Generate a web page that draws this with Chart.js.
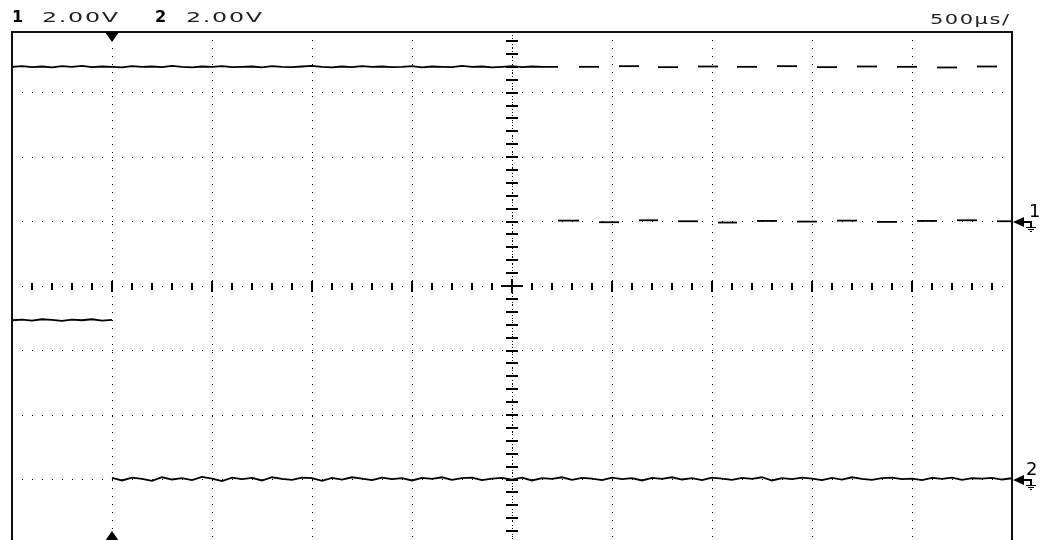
<!DOCTYPE html>
<html>
<head>
<meta charset="utf-8">
<script src="https://cdn.jsdelivr.net/npm/chart.js@4.4.1/dist/chart.umd.min.js"></script>
<style>
  html, body { margin: 0; padding: 0; background: #fff; overflow: hidden; }
  #wrap { position: absolute; left: 0; top: 0; width: 1047px; height: 546px; }
  .lbl { position: absolute; font-family: "DejaVu Sans", sans-serif; line-height: 1; color: #222; white-space: nowrap; transform-origin: 0 0; }
  .num { font-weight: bold; font-size: 16px; color: #000; }
  .wide { font-size: 14px; letter-spacing: 1px; transform: scaleX(1.7); }
  .gnd { font-size: 18px; color: #000; }
</style>
</head>
<body>
<div id="wrap"><canvas id="scope"></canvas></div>
<div class="lbl num" id="ch1-num" style="left:12px;top:8.5px"></div>
<div class="lbl wide" id="ch1-scale" style="left:42px;top:10px"></div>
<div class="lbl num" id="ch2-num" style="left:155px;top:8.5px"></div>
<div class="lbl wide" id="ch2-scale" style="left:186px;top:10px"></div>
<div class="lbl wide" id="timebase" style="left:930px;top:12px;transform:scaleX(1.5)"></div>
<div class="lbl gnd" id="gnd1"></div>
<div class="lbl gnd" id="gnd2"></div>
<script>
// screen settings
const channelNames = ['1', '2'];
const channelScales = ['2.00V', '2.00V'];
const timebaseLabel = '500µs/';
const VOLTS_PER_DIV = 2;
const CH1_GROUND = 1;     // divisions above centre
const CH2_GROUND = -3;
const T_START = -0.5;     // ms at left edge (trigger at 0)
const T_END = 4.5;
const T_STEP = 0.05;      // ms between samples

const xDivisions = [-0.5, 0, 0.5, 1, 1.5, 2, 2.5, 3, 3.5, 4, 4.5];
const yDivisions = [-4, -3, -2, -1, 0, 1, 2, 3];

// ch1 steady high, -0.5 .. 2.2 ms (V)
const ch1High = [
  4.80, 4.82, 4.79, 4.81, 4.78, 4.82, 4.80, 4.83, 4.79, 4.81,
  4.80, 4.78, 4.82, 4.80, 4.81, 4.79, 4.83, 4.80, 4.78, 4.81,
  4.80, 4.82, 4.79, 4.80, 4.81, 4.78, 4.82, 4.80, 4.79, 4.81,
  4.83, 4.80, 4.78, 4.81, 4.79, 4.82, 4.80, 4.81, 4.79, 4.80,
  4.82, 4.78, 4.81, 4.80, 4.79, 4.83, 4.80, 4.81, 4.78, 4.80,
  4.82, 4.79, 4.81, 4.80, 4.80
];
// ch1 burst: edge times (ms) and level after each edge (V)
const ch1Edges = [
  2.23, 2.335, 2.435, 2.535, 2.635, 2.73, 2.83, 2.93, 3.03, 3.125, 3.225, 3.325,
  3.425, 3.525, 3.625, 3.725, 3.825, 3.925, 4.025, 4.125, 4.225, 4.325, 4.425
];
const ch1Levels = [
  0.03, 4.80, -0.02, 4.82, 0.04, 4.79, 0.01, 4.81, -0.03, 4.80, 0.02, 4.82,
  0.00, 4.79, 0.03, 4.81, -0.01, 4.80, 0.02, 4.78, 0.04, 4.81, 0.01
];

// ch2 before trigger, -0.5 .. 0 ms (V)
const ch2Before = [4.94, 4.96, 4.93, 4.97, 4.95, 4.92, 4.96, 4.94, 4.97, 4.93, 4.95];
// ch2 after trigger, 0 .. 4.5 ms (V)
const ch2After = [
  0.05, -0.03, 0.06, 0.02, -0.04, 0.07, 0.00, 0.04, -0.02, 0.08,
  0.03, -0.05, 0.06, 0.01, 0.05, -0.03, 0.07, 0.02, -0.01, 0.06,
  0.04, -0.04, 0.05, 0.00, 0.07, 0.03, -0.02, 0.06, 0.01, 0.04,
  -0.03, 0.05, 0.02, 0.07, -0.01, 0.04, 0.06, -0.02, 0.03, 0.05,
  0.00, 0.06, -0.03, 0.04, 0.02, 0.07, -0.01, 0.05, 0.03, -0.02,
  0.06, 0.01, 0.04, -0.03, 0.05, 0.02, 0.07, 0.00, 0.04, -0.02,
  0.06, 0.03, -0.01, 0.05, 0.02, 0.07, -0.03, 0.04, 0.01, 0.06,
  0.03, -0.02, 0.05, 0.00, 0.07, 0.02, -0.01, 0.04, 0.06, 0.01,
  0.03, -0.02, 0.05, 0.02, 0.06, -0.01, 0.04, 0.03, 0.05, 0.00,
  0.04
];

const $ = id => document.getElementById(id);
$('ch1-num').textContent = channelNames[0];
$('ch2-num').textContent = channelNames[1];
$('ch1-scale').textContent = channelScales[0];
$('ch2-scale').textContent = channelScales[1];
$('timebase').textContent = timebaseLabel;
$('gnd1').textContent = channelNames[0];
$('gnd2').textContent = channelNames[1];

// volts -> screen divisions for a channel
const toDiv = (v, gnd) => v / VOLTS_PER_DIV + gnd;

const ch1Points = ch1High.map((v, i) => ({ x: T_START + i * T_STEP, y: toDiv(v, CH1_GROUND) }));
ch1Points.push({ x: ch1Edges[0], y: ch1Points[ch1Points.length - 1].y });
ch1Edges.forEach((t, i) => {
  const end = i + 1 < ch1Edges.length ? ch1Edges[i + 1] : T_END;
  const lv = toDiv(ch1Levels[i], CH1_GROUND);
  ch1Points.push({ x: t, y: lv }, { x: end, y: lv });
});

const ch2Points = ch2Before.map((v, i) => ({ x: T_START + i * T_STEP, y: toDiv(v, CH2_GROUND) }))
  .concat(ch2After.map((v, i) => ({ x: i * T_STEP, y: toDiv(v, CH2_GROUND) })));

// the scope doesn't paint fast edges, so hide the vertical jumps
const hideJumps = c => Math.abs(c.p0.parsed.y - c.p1.parsed.y) > 0.5 ? 'rgba(0,0,0,0)' : '#000';

const trace = (label, data) => ({
  label, data,
  borderColor: '#000', borderWidth: 1.8,
  pointRadius: 0, tension: 0,
  segment: { borderColor: hideJumps }
});

// graticule ticks on the centre lines, frame, trigger and ground markers
const scopeDecor = {
  id: 'scopeDecor',
  beforeDatasetsDraw(chart) {
    const { ctx, scales: { x, y } } = chart;
    const cx = Math.round(x.getPixelForValue((T_START + T_END) / 2));
    const cy = Math.round(y.getPixelForValue(0));
    ctx.save();
    ctx.fillStyle = '#000';
    for (let k = 0; k <= 50; k++) {
      const px = Math.round(x.getPixelForValue(T_START + k * 0.1));
      const h = k % 5 === 0 ? 11 : 7;
      ctx.fillRect(px - 1, cy - Math.floor(h / 2), 2, h);
    }
    for (let k = -80; k < 80; k++) {
      const py = Math.round(y.getPixelForValue(k * 0.05));
      if (k % 4 === 0) ctx.fillRect(cx - 6, py - 1, 12, 2);
      else ctx.fillRect(cx, py, 1, 1);
    }
    ctx.fillRect(cx - 11, cy - 1, 22, 2);
    ctx.fillRect(cx - 1, cy - 7, 2, 14);
    ctx.restore();
  },
  afterDraw(chart) {
    const { ctx, chartArea: a, scales: { x, y } } = chart;
    ctx.save();
    ctx.strokeStyle = '#111';
    ctx.lineWidth = 2;
    ctx.strokeRect(a.left, a.top, a.right - a.left, a.bottom - a.top);

    ctx.fillStyle = '#000';
    const tx = Math.round(x.getPixelForValue(0));
    ctx.beginPath();
    ctx.moveTo(tx - 7, a.top); ctx.lineTo(tx + 7, a.top); ctx.lineTo(tx, a.top + 10);
    ctx.fill();
    ctx.beginPath();
    ctx.moveTo(tx - 7, a.bottom - 3); ctx.lineTo(tx + 7, a.bottom - 3); ctx.lineTo(tx, a.bottom - 13);
    ctx.fill();

    [CH1_GROUND, CH2_GROUND].forEach(g => {
      const gy = Math.round(y.getPixelForValue(g));
      const r = Math.round(a.right);
      ctx.beginPath();
      ctx.moveTo(r + 1, gy); ctx.lineTo(r + 12, gy - 5); ctx.lineTo(r + 12, gy + 5);
      ctx.fill();
      ctx.fillRect(r + 12, gy - 1, 8, 2);
      ctx.fillRect(r + 18, gy - 1, 2, 6);
      ctx.fillRect(r + 14, gy + 5, 10, 1);
      ctx.fillRect(r + 16, gy + 7, 6, 1);
      ctx.fillRect(r + 18, gy + 9, 2, 1);
    });
    ctx.restore();
  }
};

const chart = new Chart($('scope'), {
  type: 'line',
  data: { datasets: [trace('CH1', ch1Points), trace('CH2', ch2Points)] },
  options: {
    responsive: true,
    maintainAspectRatio: false,
    animation: false,
    events: [],
    layout: { padding: { left: 12, right: 35, top: 32, bottom: 2 } },
    plugins: { legend: { display: false }, tooltip: { enabled: false } },
    scales: {
      x: {
        type: 'linear', min: T_START, max: T_END,
        afterBuildTicks: s => { s.ticks = xDivisions.map(v => ({ value: v })); },
        ticks: { display: false },
        grid: { color: '#000', lineWidth: 1, drawTicks: false },
        border: { display: false, dash: [1, 7] }
      },
      y: {
        type: 'linear', min: -4, max: 3.94,
        afterBuildTicks: s => { s.ticks = yDivisions.map(v => ({ value: v })); },
        ticks: { display: false },
        grid: { color: '#000', lineWidth: 1, drawTicks: false },
        border: { display: false, dash: [1, 9] }
      }
    }
  },
  plugins: [scopeDecor]
});

// place the ground labels next to their markers
const a = chart.chartArea;
[['gnd1', CH1_GROUND, 1029], ['gnd2', CH2_GROUND, 1026]].forEach(([id, g, left]) => {
  const gy = chart.scales.y.getPixelForValue(g);
  const el = $(id);
  el.style.left = (a.right + (left - 1012)) + 'px';
  el.style.top = (gy - 20) + 'px';
});
</script>
</body>
</html>
